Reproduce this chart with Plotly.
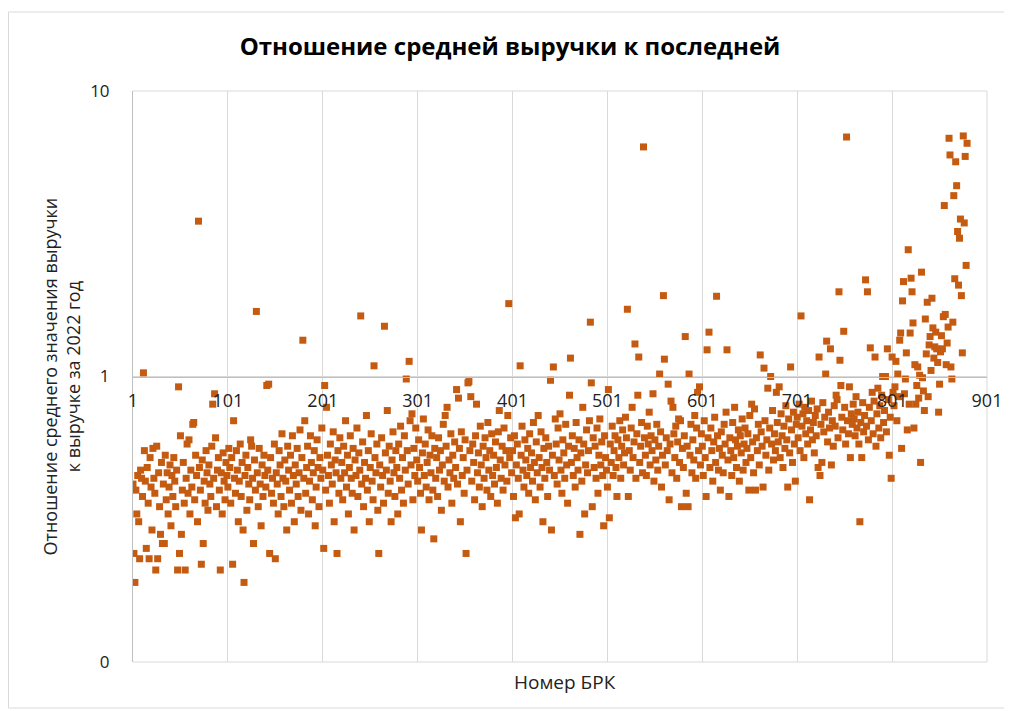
import plotly.graph_objects as go

# Ratio values for each BRK number (1..N)
ratio = [
    0.42, 0.24, 0.19, 0.40, 0.33, 0.45, 0.31, 0.23, 0.47, 0.44, 0.38, 1.03, 0.55, 0.43, 0.25, 0.48, 0.36, 0.23, 0.52, 0.41,
    0.29, 0.56, 0.44, 0.39, 0.21, 0.57, 0.23, 0.46, 0.35, 0.28, 0.50, 0.26, 0.42, 0.26, 0.53, 0.37, 0.46, 0.33, 0.41, 0.49,
    0.30, 0.45, 0.38, 0.52, 0.43, 0.35, 0.47, 0.21, 0.92, 0.24, 0.62, 0.28, 0.40, 0.50, 0.36, 0.21, 0.44, 0.58, 0.39, 0.60,
    0.33, 0.47, 0.41, 0.68, 0.69, 0.37, 0.53, 0.45, 0.31, 3.50, 0.48, 0.40, 0.22, 0.51, 0.26, 0.43, 0.36, 0.55, 0.46, 0.34,
    0.49, 0.42, 0.38, 0.57, 0.80, 0.44, 0.87, 0.61, 0.35, 0.47, 0.52, 0.40, 0.21, 0.46, 0.33, 0.54, 0.43, 0.37, 0.50, 0.45,
    0.41, 0.56, 0.48, 0.36, 0.52, 0.22, 0.70, 0.44, 0.39, 0.55, 0.47, 0.31, 0.43, 0.58, 0.38, 0.50, 0.29, 0.19, 0.45, 0.53,
    0.34, 0.48, 0.42, 0.37, 0.60, 0.57, 0.44, 0.26, 0.51, 0.40, 1.69, 0.46, 0.35, 0.56, 0.42, 0.30, 0.49, 0.38, 0.53, 0.45,
    0.41, 0.93, 0.47, 0.94, 0.24, 0.52, 0.39, 0.44, 0.36, 0.58, 0.23, 0.46, 0.42, 0.33, 0.55, 0.49, 0.38, 0.63, 0.44, 0.35,
    0.51, 0.43, 0.29, 0.57, 0.47, 0.40, 0.53, 0.36, 0.62, 0.45, 0.31, 0.49, 0.42, 0.56, 0.38, 0.46, 0.65, 0.34, 0.52, 1.34,
    0.44, 0.70, 0.39, 0.48, 0.57, 0.33, 0.43, 0.62, 0.50, 0.37, 0.46, 0.55, 0.30, 0.41, 0.60, 0.48, 0.35, 0.52, 0.44, 0.66,
    0.47, 0.25, 0.93, 0.40, 0.78, 0.53, 0.45, 0.36, 0.58, 0.49, 0.42, 0.64, 0.31, 0.51, 0.46, 0.24, 0.55, 0.39, 0.61, 0.44,
    0.50, 0.37, 0.57, 0.46, 0.70, 0.41, 0.53, 0.33, 0.48, 0.62, 0.44, 0.39, 0.56, 0.29, 0.51, 0.45, 0.66, 0.38, 0.54, 0.47,
    1.63, 0.42, 0.59, 0.35, 0.50, 0.44, 0.73, 0.40, 0.55, 0.31, 0.48, 0.63, 0.43, 0.37, 1.09, 0.52, 0.46, 0.58, 0.34, 0.24,
    0.49, 0.41, 0.61, 0.45, 0.36, 1.50, 0.54, 0.47, 0.76, 0.39, 0.57, 0.43, 0.31, 0.51, 0.64, 0.46, 0.38, 0.55, 0.48, 0.33,
    0.58, 0.44, 0.67, 0.40, 0.52, 0.36, 0.62, 0.47, 0.98, 0.55, 0.42, 1.13, 0.70, 0.49, 0.74, 0.37, 0.56, 0.45, 0.66, 0.51,
    0.43, 0.60, 0.48, 0.39, 0.29, 0.54, 0.71, 0.45, 0.58, 0.41, 0.50, 0.65, 0.37, 0.53, 0.46, 0.62, 0.40, 0.27, 0.56, 0.44,
    0.52, 0.38, 0.61, 0.47, 0.55, 0.34, 0.49, 0.68, 0.43, 0.73, 0.57, 0.78, 0.41, 0.51, 0.46, 0.63, 0.36, 0.53, 0.44, 0.59,
    0.48, 0.90, 0.42, 0.84, 0.56, 0.31, 0.64, 0.45, 0.52, 0.39, 0.60, 0.24, 0.47, 0.95, 0.96, 0.55, 0.85, 0.43, 0.58, 0.50,
    0.37, 0.62, 0.80, 0.46, 0.54, 0.41, 0.67, 0.49, 0.35, 0.57, 0.44, 0.61, 0.52, 0.40, 0.69, 0.47, 0.55, 0.38, 0.63, 0.45,
    0.53, 0.42, 0.59, 0.48, 0.36, 0.64, 0.76, 0.51, 0.44, 0.57, 0.40, 0.66, 0.49, 0.55, 0.43, 0.73, 1.80, 0.52, 0.61, 0.46,
    0.55, 0.38, 0.62, 0.32, 0.49, 0.58, 0.44, 0.33, 1.09, 0.53, 0.67, 0.47, 0.41, 0.60, 0.51, 0.45, 0.56, 0.39, 0.63, 0.48,
    0.54, 0.43, 0.69, 0.50, 0.37, 0.59, 0.46, 0.73, 0.52, 0.41, 0.64, 0.48, 0.31, 0.56, 0.44, 0.61, 0.50, 0.38, 0.57, 0.47,
    0.97, 0.29, 0.53, 1.08, 0.45, 0.71, 0.58, 0.42, 0.66, 0.51, 0.74, 0.47, 0.39, 0.60, 0.54, 0.44, 0.68, 0.49, 0.36, 0.57,
    0.86, 1.16, 0.50, 0.62, 0.45, 0.56, 0.41, 0.69, 0.52, 0.47, 0.60, 0.28, 0.54, 0.43, 0.78, 0.58, 0.33, 0.49, 0.65, 0.46,
    0.55, 0.70, 1.55, 0.95, 0.35, 0.61, 0.48, 0.57, 0.44, 0.66, 0.39, 0.53, 0.71, 0.49, 0.59, 0.45, 0.30, 0.62, 0.52, 0.47,
    0.41, 0.90, 0.32, 0.58, 0.50, 0.67, 0.45, 0.55, 0.62, 0.48, 0.38, 0.60, 0.52, 0.70, 0.44, 0.57, 0.65, 0.49, 0.54, 0.72,
    0.61, 1.72, 0.38, 0.55, 0.47, 0.66, 0.78, 0.52, 0.59, 1.30, 0.44, 0.63, 0.86, 1.17, 0.50, 0.57, 0.69, 0.46, 6.37, 0.61,
    0.53, 0.45, 0.67, 0.58, 0.75, 0.49, 0.62, 0.55, 0.87, 0.43, 0.60, 0.51, 0.68, 0.47, 0.57, 1.02, 0.64, 0.41, 0.53, 1.92,
    1.15, 0.49, 0.61, 0.55, 0.94, 0.37, 0.58, 0.82, 0.46, 0.78, 0.63, 0.52, 0.67, 0.44, 0.59, 0.71, 0.50, 0.70, 0.35, 0.56,
    0.48, 0.62, 1.38, 0.39, 0.57, 0.35, 1.02, 0.53, 0.68, 0.46, 0.60, 0.51, 0.73, 0.44, 0.66, 0.88, 0.55, 0.92, 0.49, 0.63,
    0.57, 0.45, 0.70, 0.52, 0.38, 1.24, 0.61, 1.43, 0.48, 0.66, 0.55, 0.43, 0.59, 0.72, 0.50, 1.91, 0.62, 0.47, 0.56, 0.40,
    0.64, 0.53, 0.46, 0.68, 0.58, 0.75, 1.24, 0.51, 0.38, 0.61, 0.55, 0.45, 0.69, 0.52, 0.78, 0.60, 0.48, 0.57, 0.65, 0.43,
    0.62, 0.54, 0.71, 0.47, 0.58, 0.66, 0.50, 0.56, 0.63, 0.40, 0.73, 0.52, 0.80, 0.59, 0.46, 0.77, 0.40, 0.61, 0.55, 0.68,
    0.49, 1.19, 0.64, 0.57, 0.41, 1.07, 0.70, 0.53, 0.60, 0.91, 0.47, 0.66, 1.00, 0.58, 0.76, 0.51, 0.63, 0.55, 0.88, 0.69,
    0.59, 0.92, 0.52, 0.74, 0.62, 0.48, 0.67, 0.56, 0.79, 0.60, 0.41, 0.71, 0.54, 1.08, 0.65, 0.50, 0.75, 0.58, 0.43, 0.68,
    0.72, 0.61, 0.80, 0.55, 1.63, 0.67, 0.74, 0.52, 0.78, 0.63, 0.70, 0.58, 0.76, 0.37, 0.65, 0.82, 0.60, 0.69, 0.54, 0.73,
    0.62, 0.77, 0.48, 1.17, 0.45, 0.68, 0.50, 0.81, 0.64, 0.72, 1.02, 1.33, 0.59, 0.75, 0.66, 1.25, 0.49, 0.70, 0.57, 0.79,
    0.67, 0.86, 0.83, 0.61, 1.98, 1.14, 0.93, 0.72, 0.65, 1.44, 0.78, 0.58, 6.90, 0.70, 0.63, 0.92, 0.52, 0.74, 0.68, 0.80,
    0.71, 0.62, 0.85, 0.66, 0.75, 0.58, 0.31, 0.69, 0.52, 0.81, 0.64, 0.73, 2.18, 0.67, 1.98, 0.60, 0.78, 1.26, 0.70, 0.88,
    0.63, 0.82, 1.17, 0.57, 0.74, 0.91, 0.66, 0.79, 0.61, 0.86, 1.00, 0.69, 0.76, 1.00, 0.64, 1.25, 0.83, 0.53, 0.72, 0.44,
    1.17, 0.88, 0.79, 0.92, 1.13, 0.70, 1.02, 0.85, 1.34, 1.42, 0.56, 1.84, 2.15, 0.87, 0.98, 1.21, 0.65, 2.78, 0.80, 1.42,
    2.21, 1.98, 1.54, 0.66, 1.10, 0.80, 0.93, 1.08, 0.84, 1.01, 0.50, 2.32, 0.99, 0.89, 0.76, 1.59, 1.20, 1.82, 0.85, 1.29,
    1.38, 1.05, 1.88, 1.48, 1.16, 1.27, 1.43, 1.25, 1.12, 0.75, 0.94, 1.22, 1.39, 1.25, 1.62, 3.97, 1.65, 1.10, 1.31, 1.49,
    6.83, 5.97, 1.08, 0.98, 1.55, 4.30, 2.20, 5.65, 4.66, 3.22, 2.09, 3.05, 3.56, 1.92, 1.21, 6.96, 3.45, 5.90, 2.45, 6.56,
]
brk_number = list(range(1, len(ratio) + 1))

x_ticks = [1, 101, 201, 301, 401, 501, 601, 701, 801, 901]
y_ticks = [0.1, 1, 10]
y_tick_text = ["0", "1", "10"]

title_text = "Отношение средней выручки к последней"
x_title = "Номер БРК"
y_title = "Отношение среднего значения выручки<br>к выручке за 2022 год"

FONT = "Open Sans"
OFF = 8  # page body margin
W, H = 1012 - OFF, 711 - OFF
L, R, T, B = 133 - OFF, 25, 91 - OFF, 49
pw, ph = W - L - R, H - T - B


def px(xpage):
    return (xpage - OFF - L) / pw


def py(ypage):
    return (H - B - (ypage - OFF)) / ph


grid = "#d9d9d9"

fig = go.Figure()
fig.add_trace(go.Scatter(
    x=brk_number, y=ratio, mode="markers",
    marker=dict(symbol="square", size=7, color="#C55A11", line=dict(width=0)),
    hoverinfo="x+y", showlegend=False,
))

fig.update_layout(
    width=W, height=H,
    margin=dict(l=L, r=R, t=T, b=B, autoexpand=False),
    paper_bgcolor="white", plot_bgcolor="white",
    font=dict(family=FONT, color="#222222"),
    title=dict(text=title_text, x=0.5, xanchor="center", y=1 - (47 - OFF) / H, yanchor="middle",
               font=dict(family=FONT, size=24, color="#000000", weight="bold")),
    xaxis=dict(
        range=[1, 901], tickmode="array", tickvals=x_ticks,
        showgrid=True, gridcolor=grid, gridwidth=1,
        zeroline=False, showline=True, linecolor="#bfbfbf", linewidth=1,
        anchor="free", position=0.5, ticks="", ticklabelstandoff=8,
        tickfont=dict(family=FONT, size=18, color="#222222"),
    ),
    yaxis=dict(
        type="log", range=[-1, 1], tickmode="array", tickvals=y_ticks, ticktext=y_tick_text,
        showgrid=True, gridcolor=grid, gridwidth=1,
        zeroline=False, showline=True, linecolor="#bfbfbf", linewidth=1,
        ticks="", ticklabelstandoff=19,
        tickfont=dict(family=FONT, size=17, color="#222222"),
    ),
    shapes=[
        dict(type="rect", xref="paper", yref="paper",
             x0=px(8.5), x1=px(1007), y0=py(708), y1=py(12),
             line=dict(color=grid, width=1), fillcolor="rgba(0,0,0,0)", layer="below"),
        dict(type="line", xref="paper", yref="paper", x0=0, x1=1, y0=1, y1=1,
             line=dict(color=grid, width=1), layer="below"),
        dict(type="line", xref="paper", yref="paper", x0=0, x1=1, y0=0, y1=0,
             line=dict(color=grid, width=1), layer="below"),
        dict(type="line", xref="paper", yref="paper", x0=1, x1=1, y0=0, y1=1,
             line=dict(color=grid, width=1), layer="below"),
    ],
    annotations=[
        dict(text=y_title, xref="paper", yref="paper", x=px(61), y=0.5, textangle=-90,
             showarrow=False, xanchor="center", yanchor="middle", align="center",
             font=dict(family=FONT, size=18, color="#222222")),
        dict(text=x_title, xref="paper", yref="paper", x=px(565), y=py(682),
             showarrow=False, xanchor="center", yanchor="middle",
             font=dict(family=FONT, size=19, color="#222222")),
    ],
)

fig.write_html("out.html")
